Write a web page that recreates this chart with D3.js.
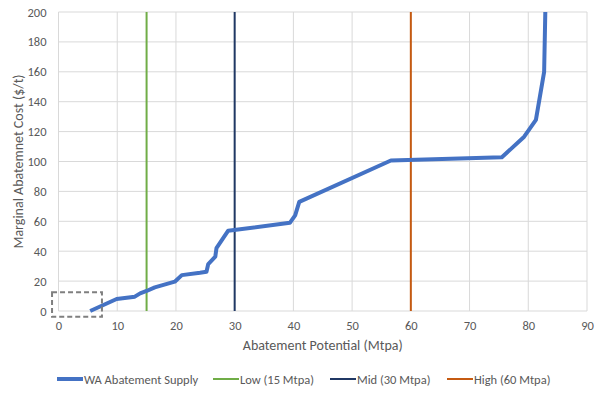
<!DOCTYPE html>
<html>
<head>
<meta charset="utf-8">
<script src="https://cdn.jsdelivr.net/npm/d3@7"></script>
<style>
  body { margin: 0; background: #fff; }
  svg text { font-family: Carlito, Calibri, Lato, "Open Sans", sans-serif; fill: #595959; }
</style>
</head>
<body>
<svg id="chart" width="602" height="394"></svg>
<script>
// supply curve points: abatement potential (Mtpa), marginal cost ($/t)
const supplyX = [5.4, 9.9, 13.0, 13.9, 15.0, 16.4, 19.8, 21.0, 24.1, 25.2, 25.5, 26.7, 26.9, 28.9, 39.4, 40.3, 41.0, 56.6, 75.5, 79.3, 81.3, 82.7, 82.9];
const supplyY = [0, 8, 9.6, 11.8, 13.4, 15.8, 19.6, 24, 25.6, 26.3, 31.4, 36.3, 42, 53.7, 59, 64, 73, 100.7, 102.8, 116.6, 127.8, 160, 200];

const targetNames = ['Low (15 Mtpa)', 'Mid (30 Mtpa)', 'High (60 Mtpa)'];
const targetValues = [15, 30, 60];
const targetColors = ['#70ad47', '#203864', '#c55a11'];

const xTicks = [0, 10, 20, 30, 40, 50, 60, 70, 80, 90];
const yTicks = [0, 20, 40, 60, 80, 100, 120, 140, 160, 180, 200];

// dashed highlight box around the origin
const boxX = [-1.1, 7.4];
const boxY = [-3.8, 12.5];

const svg = d3.select('#chart');
const margin = { left: 58.5, right: 15, top: 12, bottom: 83 };
const W = 602, H = 394;

const x = d3.scaleLinear().domain([0, 90]).range([margin.left, W - margin.right]);
const y = d3.scaleLinear().domain([0, 200]).range([H - margin.bottom, margin.top]);

// gridlines
svg.append('g').selectAll('line').data(yTicks).join('line')
  .attr('x1', x(0)).attr('x2', x(90))
  .attr('y1', d => y(d)).attr('y2', d => y(d))
  .attr('stroke', '#d9d9d9').attr('stroke-width', 1);
svg.append('g').selectAll('line').data(xTicks).join('line')
  .attr('y1', y(0)).attr('y2', y(200))
  .attr('x1', d => x(d)).attr('x2', d => x(d))
  .attr('stroke', '#d9d9d9').attr('stroke-width', 1);

// axes (tick labels only)
svg.append('g')
  .attr('transform', `translate(0,${y(0)})`)
  .call(d3.axisBottom(x).tickValues(xTicks).tickSize(0).tickPadding(10))
  .call(ax => ax.select('.domain').remove())
  .call(ax => ax.selectAll('text').attr('font-size', 12.5).style('fill', '#595959'));
svg.append('g')
  .attr('transform', `translate(${x(0)},0)`)
  .call(d3.axisLeft(y).tickValues(yTicks).tickSize(0).tickPadding(12))
  .call(ax => ax.select('.domain').remove())
  .call(ax => ax.selectAll('text').attr('font-size', 12.5).style('fill', '#595959'));

// target lines
targetValues.forEach((v, i) => {
  svg.append('line')
    .attr('x1', x(v)).attr('x2', x(v))
    .attr('y1', y(0)).attr('y2', y(200))
    .attr('stroke', targetColors[i]).attr('stroke-width', 2);
});

// supply curve
const pts = supplyX.map((d, i) => [d, supplyY[i]]);
svg.append('path')
  .datum(pts)
  .attr('d', d3.line().x(d => x(d[0])).y(d => y(d[1])))
  .attr('fill', 'none')
  .attr('stroke', '#4472c4')
  .attr('stroke-width', 4)
  .attr('stroke-linejoin', 'round');

// dashed box
svg.append('rect')
  .attr('x', x(boxX[0])).attr('y', y(boxY[1]))
  .attr('width', x(boxX[1]) - x(boxX[0]))
  .attr('height', y(boxY[0]) - y(boxY[1]))
  .attr('fill', 'none')
  .attr('stroke', '#7f7f7f').attr('stroke-width', 2)
  .attr('stroke-dasharray', '5,3');

// axis titles
svg.append('text')
  .attr('x', (x(0) + x(90)) / 2).attr('y', 350)
  .attr('text-anchor', 'middle').attr('font-size', 14)
  .text('Abatement Potential (Mtpa)');
svg.append('text')
  .attr('transform', `translate(23,${(y(0) + y(200)) / 2}) rotate(-90)`)
  .attr('text-anchor', 'middle').attr('font-size', 14)
  .text('Marginal Abatemnet Cost ($/t)');

// legend
const legendItems = [
  { name: 'WA Abatement Supply', color: '#4472c4', w: 4, x: 57 },
  { name: targetNames[0], color: targetColors[0], w: 2, x: 213 },
  { name: targetNames[1], color: targetColors[1], w: 2, x: 330 },
  { name: targetNames[2], color: targetColors[2], w: 2, x: 447 }
];
const lg = svg.append('g');
legendItems.forEach(it => {
  lg.append('line')
    .attr('x1', it.x).attr('x2', it.x + 26)
    .attr('y1', 379).attr('y2', 379)
    .attr('stroke', it.color).attr('stroke-width', it.w);
  lg.append('text')
    .attr('x', it.x + 27).attr('y', 383.5)
    .attr('font-size', 12.5)
    .text(it.name);
});
</script>
</body>
</html>
